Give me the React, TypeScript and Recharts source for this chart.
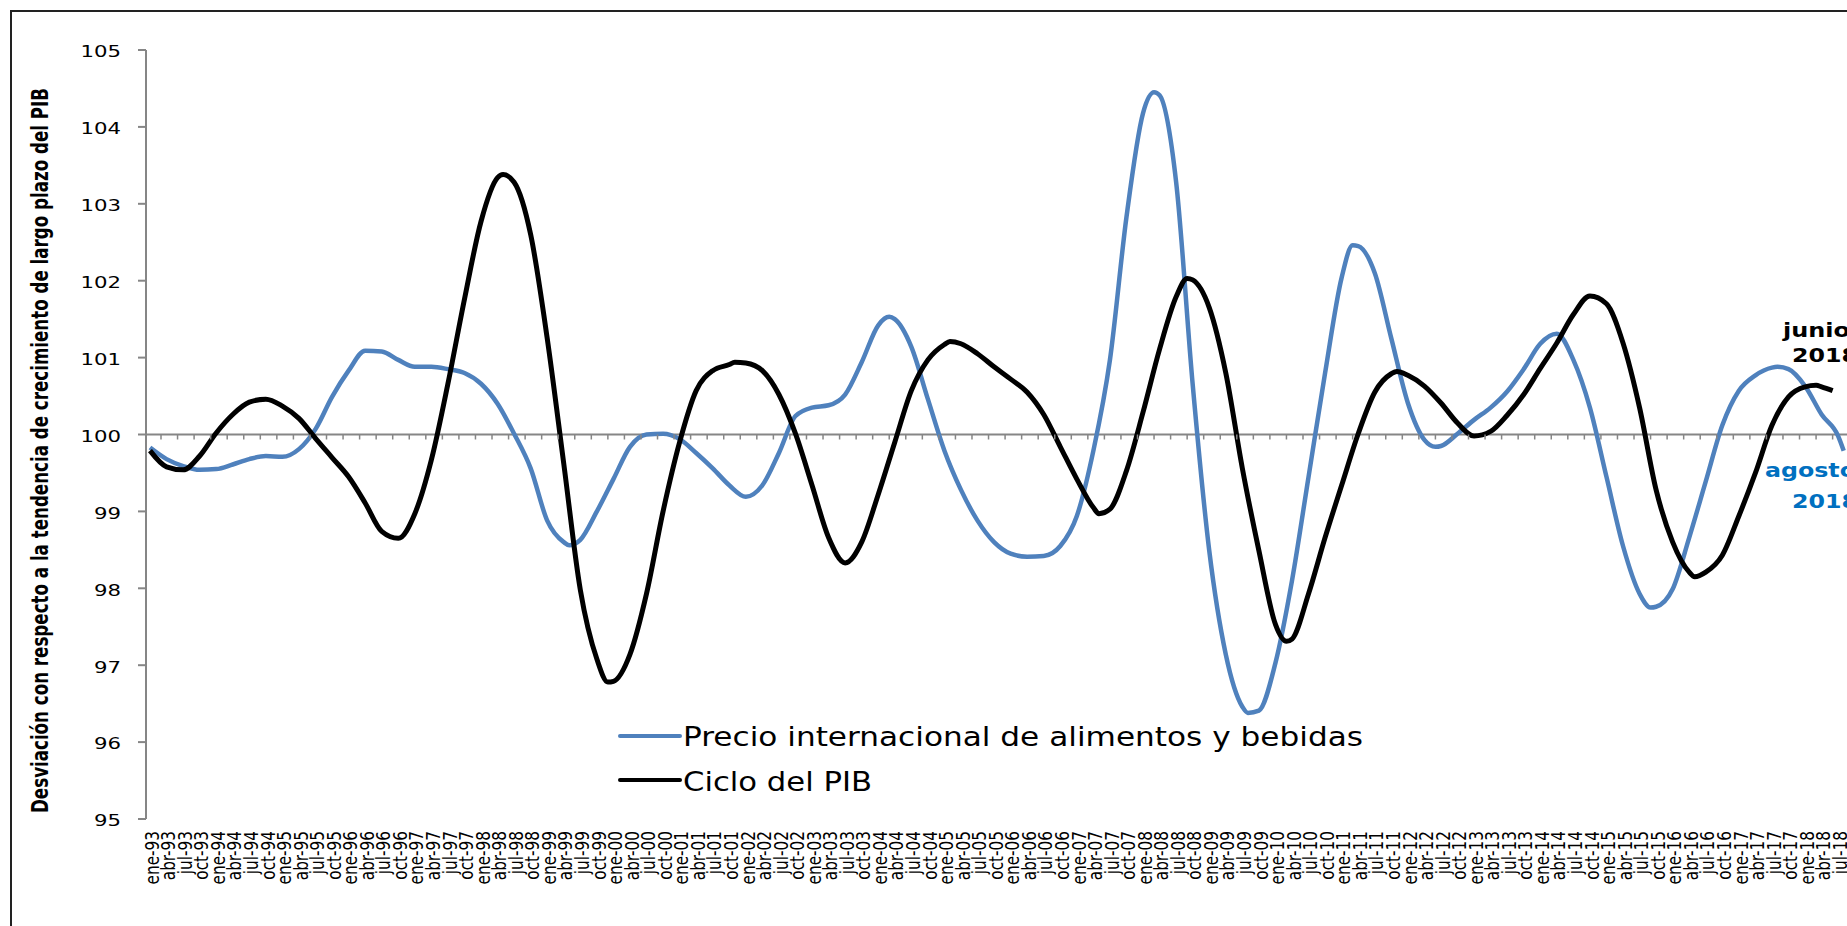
import React from 'react';
import { LineChart, Line, XAxis, YAxis, ReferenceLine, Legend } from 'recharts';

// months counted from ene-93 (0) to ago-18 (307)
const meses = ['ene', 'feb', 'mar', 'abr', 'may', 'jun', 'jul', 'ago', 'sep', 'oct', 'nov', 'dic'];
const firstYear = 1993;
const quarterTicks = Array.from({ length: 103 }, (_, i) => i * 3);
const yTicks = [95, 96, 97, 98, 99, 100, 101, 102, 103, 104, 105];
const seriesNames = ['Precio internacional de alimentos y bebidas', 'Ciclo del PIB'];

// [mes, valor]
const precioAlimentos: [number, number][] = [
  [0, 99.83], [3, 99.68], [6, 99.59], [9, 99.54], [12, 99.55], [15, 99.61], [18, 99.68], [21, 99.72],
  [24, 99.71], [27, 99.81], [30, 100.07], [33, 100.49], [36, 100.83], [39, 101.09], [42, 101.08],
  [45, 100.97], [48, 100.88], [51, 100.88], [54, 100.85], [57, 100.8], [60, 100.66], [63, 100.4],
  [66, 100.01], [69, 99.56], [72, 98.88], [75, 98.6], [76, 98.56], [78, 98.63], [81, 99.0], [84, 99.42],
  [87, 99.84], [90, 100.0], [93, 100.01], [96, 99.94], [99, 99.76], [102, 99.56], [105, 99.34],
  [108, 99.19], [111, 99.34], [114, 99.76], [117, 100.24], [120, 100.35], [123, 100.38], [126, 100.52],
  [129, 100.94], [132, 101.42], [134, 101.53], [135, 101.5], [138, 101.14], [141, 100.46], [144, 99.79],
  [147, 99.28], [150, 98.88], [153, 98.6], [156, 98.45], [159, 98.41], [162, 98.42], [165, 98.55],
  [168, 98.94], [171, 99.79], [174, 100.97], [177, 102.83], [180, 104.18], [182, 104.45], [183, 104.41],
  [186, 103.28], [189, 100.65], [192, 98.49], [195, 97.14], [198, 96.46], [199, 96.38], [201, 96.41],
  [204, 97.03], [207, 98.1], [210, 99.45], [213, 100.8], [216, 102.04], [218, 102.46], [219, 102.45],
  [222, 102.1], [225, 101.25], [228, 100.41], [231, 99.93], [233, 99.84], [234, 99.85], [237, 100.01],
  [240, 100.19], [243, 100.35], [246, 100.56], [249, 100.85], [252, 101.18], [255, 101.31], [258, 100.97],
  [261, 100.35], [264, 99.45], [267, 98.55], [270, 97.93], [272, 97.75], [273, 97.76], [276, 97.99],
  [279, 98.66], [282, 99.39], [285, 100.12], [288, 100.57], [291, 100.77], [294, 100.87], [295, 100.88],
  [297, 100.85], [300, 100.63], [303, 100.26], [306, 99.98], [307, 99.79],
];

const cicloPib: [number, number][] = [
  [0, 99.79], [3, 99.58], [6, 99.54], [9, 99.72], [12, 100.02], [15, 100.26], [18, 100.42], [21, 100.46],
  [24, 100.37], [27, 100.21], [30, 99.95], [33, 99.7], [36, 99.45], [39, 99.11], [42, 98.74], [45, 98.65],
  [48, 98.97], [51, 99.67], [54, 100.66], [57, 101.76], [60, 102.77], [63, 103.34], [64, 103.38],
  [66, 103.28], [69, 102.6], [72, 101.25], [75, 99.62], [78, 97.98], [81, 97.08], [83, 96.78], [84, 96.79],
  [87, 97.14], [90, 97.93], [93, 99.0], [96, 99.9], [99, 100.57], [102, 100.83], [105, 100.91],
  [106, 100.94], [108, 100.93], [111, 100.83], [114, 100.52], [117, 100.01], [120, 99.34], [123, 98.66],
  [126, 98.33], [129, 98.6], [132, 99.22], [135, 99.9], [138, 100.57], [141, 100.97], [144, 101.17],
  [145, 101.21], [147, 101.18], [150, 101.05], [153, 100.88], [156, 100.72], [159, 100.55], [162, 100.26],
  [165, 99.84], [168, 99.42], [171, 99.05], [172, 98.97], [174, 99.03], [177, 99.53], [180, 100.29],
  [183, 101.11], [186, 101.79], [188, 102.03], [189, 102.01], [192, 101.65], [195, 100.8], [198, 99.56],
  [201, 98.49], [204, 97.53], [206, 97.31], [207, 97.34], [210, 97.93], [213, 98.66], [216, 99.34],
  [219, 100.01], [222, 100.55], [225, 100.79], [226, 100.82], [228, 100.77], [231, 100.63], [234, 100.41],
  [237, 100.15], [240, 99.98], [243, 100.04], [246, 100.25], [249, 100.52], [252, 100.86], [255, 101.19],
  [258, 101.56], [261, 101.8], [264, 101.7], [267, 101.19], [270, 100.35], [273, 99.28], [276, 98.6],
  [279, 98.21], [280, 98.15], [282, 98.21], [285, 98.43], [288, 98.94], [291, 99.5], [294, 100.12],
  [297, 100.49], [300, 100.62], [302, 100.64], [303, 100.62], [305, 100.57],
];

const precioData = precioAlimentos.map(([m, v]) => ({ m, v }));
const cicloData = cicloPib.map(([m, v]) => ({ m, v }));

const W = 1847;
const H = 926;
const TOP = 50;
const X_AXIS_H = 107;
const PLOT_H = H - TOP - X_AXIS_H;
const Y_100 = TOP + PLOT_H / 2;
const AXIS_GREY = '#868686';
const narrow = "'Liberation Sans Narrow', 'DejaVu Sans Condensed', 'Arial Narrow', sans-serif";
const wide = "'DejaVu Sans', Verdana, sans-serif";

const monthLabel = (m: number) =>
  `${meses[m % 12]}-${String((firstYear + Math.floor(m / 12)) % 100).padStart(2, '0')}`;

const XTick = (props: any) => {
  const { x, payload } = props;
  return (
    <g>
      <line x1={x + 11} x2={x + 11} y1={Y_100} y2={Y_100 + 5} stroke={AXIS_GREY} strokeWidth={1.5} />
      <text
        transform={`translate(${x + 2}, 831) scale(1.12, 1) rotate(-90)`}
        textAnchor="end"
        dy="0.35em"
        fontFamily={narrow}
        fontSize={17}
        fill="#000"
      >
        {monthLabel(payload.value)}
      </text>
    </g>
  );
};

const YTick = (props: any) => {
  const { x, y, payload } = props;
  const s = String(payload.value);
  return (
    <text
      x={x}
      y={y}
      dy={7.3}
      textAnchor="end"
      fontFamily={wide}
      fontSize={16}
      textLength={s.length * 13.5}
      lengthAdjust="spacingAndGlyphs"
      fill="#000"
    >
      {s}
    </text>
  );
};

const legendLengths: Record<string, number> = {
  'Precio internacional de alimentos y bebidas': 680,
  'Ciclo del PIB': 189,
};

const renderLegend = (props: any) => {
  const items = [...(props.payload || [])].sort(
    (a: any, b: any) => seriesNames.indexOf(a.value) - seriesNames.indexOf(b.value),
  );
  return (
    <svg width={800} height={100}>
      {items.map((item: any, i: number) => (
        <g key={item.value}>
          <line x1={20} x2={80} y1={36 + i * 44} y2={36 + i * 44} stroke={item.color} strokeWidth={4} strokeLinecap="round" />
          <text
            x={83}
            y={45.7 + i * 45}
            fontFamily={wide}
            fontSize={26}
            textLength={legendLengths[item.value]}
            lengthAdjust="spacingAndGlyphs"
            fill="#000"
          >
            {item.value}
          </text>
        </g>
      ))}
    </svg>
  );
};

const App = () => {
  return (
    <div style={{ position: 'absolute', left: 0, top: 0, width: W, height: H, background: '#fff' }}>
      <LineChart width={W} height={H} margin={{ top: TOP, right: 0, bottom: 0, left: 66 }}>
        <XAxis
          type="number"
          dataKey="m"
          domain={[0, 307.6]}
          ticks={quarterTicks}
          interval={0}
          padding={{ left: 4, right: 0 }}
          height={X_AXIS_H}
          axisLine={false}
          tickLine={false}
          tick={<XTick />}
          allowDuplicatedCategory={false}
        />
        <YAxis
          type="number"
          domain={[95, 105]}
          ticks={yTicks}
          interval={0}
          width={80}
          tickSize={8}
          tickMargin={17}
          axisLine={{ stroke: AXIS_GREY, strokeWidth: 2 }}
          tickLine={{ stroke: AXIS_GREY, strokeWidth: 2 }}
          tick={<YTick />}
        />
        <ReferenceLine y={100} stroke={AXIS_GREY} strokeWidth={2} />
        <Line
          data={precioData}
          dataKey="v"
          name={seriesNames[0]}
          type="monotone"
          stroke="#4F81BD"
          strokeWidth={4.5}
          dot={false}
          activeDot={false}
          isAnimationActive={false}
        />
        <Line
          data={cicloData}
          dataKey="v"
          name={seriesNames[1]}
          type="monotone"
          stroke="#000000"
          strokeWidth={5}
          dot={false}
          activeDot={false}
          isAnimationActive={false}
        />
        <Legend
          layout="horizontal"
          verticalAlign="middle"
          align="center"
          content={renderLegend}
          wrapperStyle={{ left: 600, top: 700, width: 800, height: 100 }}
        />
      </LineChart>
      <svg
        width={W}
        height={H}
        style={{ position: 'absolute', left: 0, top: 0, pointerEvents: 'none' }}
      >
        <rect x={11} y={11} width={W + 20} height={H + 20} fill="none" stroke="#222" strokeWidth={2} />
        <text
          transform="translate(48, 450.5) scale(1.2, 1) rotate(-90)"
          textAnchor="middle"
          fontFamily={narrow}
          fontWeight="bold"
          fontSize={19}
          textLength={725}
          lengthAdjust="spacingAndGlyphs"
          fill="#000"
        >
          Desviación con respecto a la tendencia de crecimiento de largo plazo del PIB
        </text>
        <g fontFamily={wide} fontWeight="bold" fontSize={20}>
          <text x={1783} y={337} textLength={67} lengthAdjust="spacingAndGlyphs" fill="#000">junio</text>
          <text x={1792} y={362} textLength={66} lengthAdjust="spacingAndGlyphs" fill="#000">2018</text>
          <text x={1765} y={477} textLength={91} lengthAdjust="spacingAndGlyphs" fill="#0070C0">agosto</text>
          <text x={1792} y={508} textLength={66} lengthAdjust="spacingAndGlyphs" fill="#0070C0">2018</text>
        </g>
      </svg>
    </div>
  );
};

export default App;
